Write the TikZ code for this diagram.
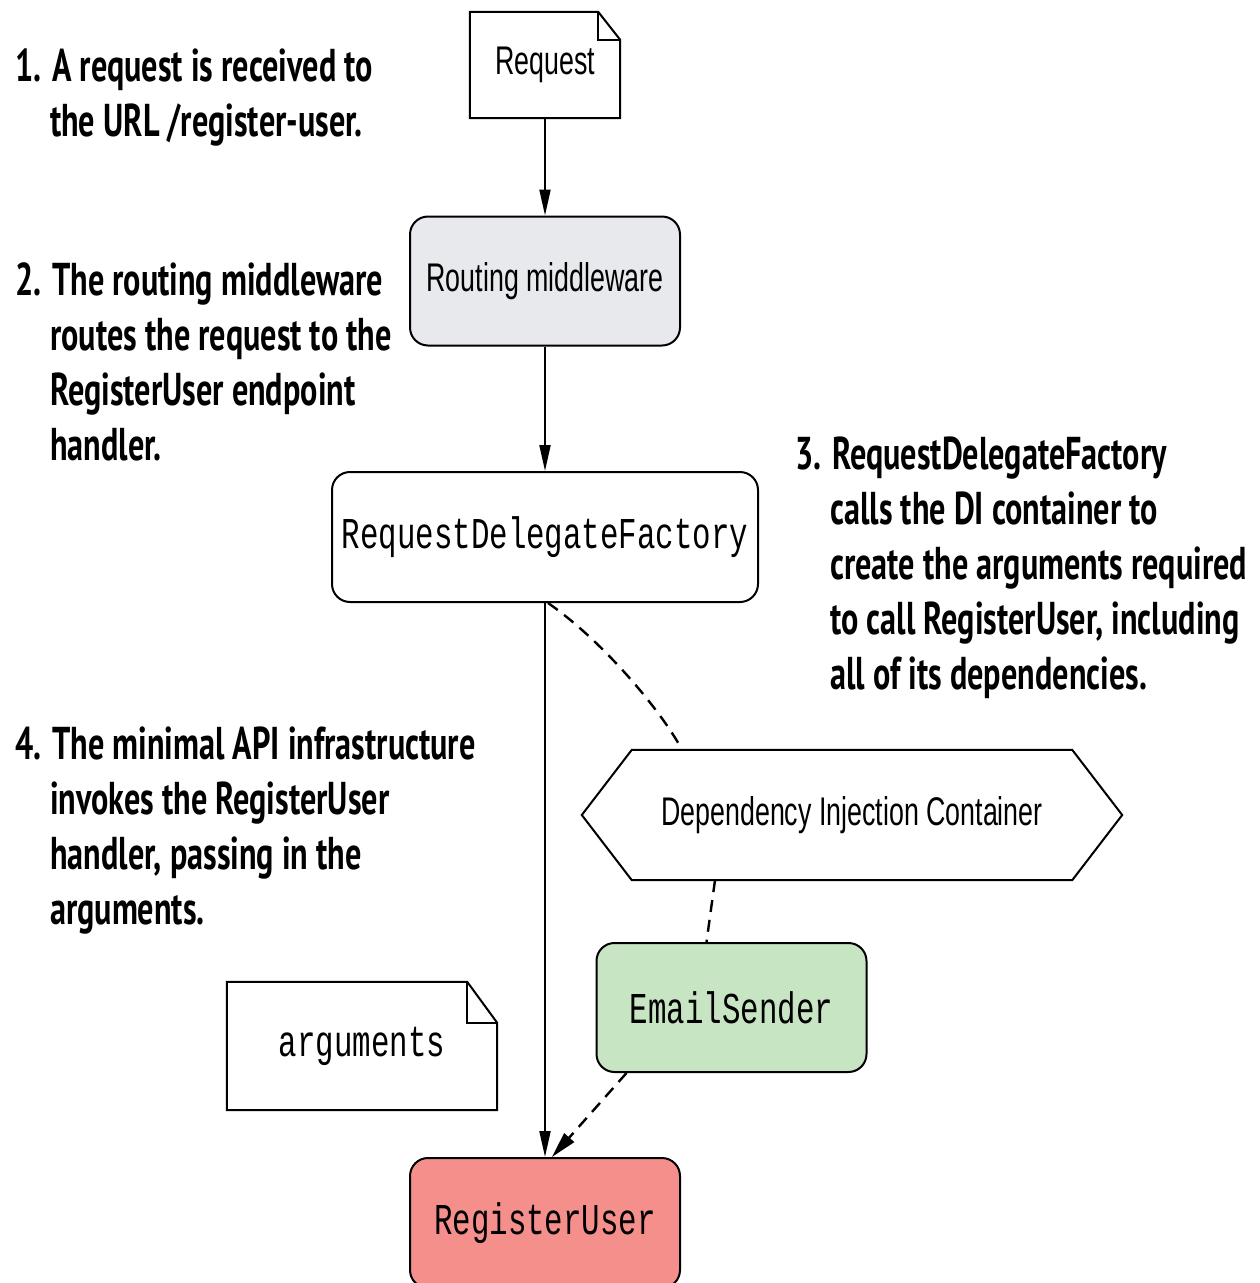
\documentclass[tikz,border=0pt]{standalone}
\usepackage{fontspec}
\setmainfont{Liberation Sans}
\newfontfamily\notefont[FakeStretch=0.70]{PT Sans}
\newfontfamily\boxfont[FakeStretch=0.67]{Liberation Sans}
\newfontfamily\codefont[FakeStretch=0.70]{Liberation Mono}
\usetikzlibrary{arrows.meta}

\definecolor{routegray}{RGB}{232,233,237}
\definecolor{sendergreen}{RGB}{199,228,195}
\definecolor{userred}{RGB}{244,143,139}

\newcommand{\noteindent}{\hspace*{35pt}}

\tikzset{
    note/.style={anchor=north west, inner sep=0pt, align=left,
        font=\notefont\bfseries\fontsize{46}{55}\selectfont},
    box/.style={draw, line width=2pt, rounded corners=18pt,
        minimum width=270pt, minimum height=129pt,
        font=\boxfont\fontsize{40}{48}\selectfont},
    codebox/.style={box, font=\codefont\fontsize{44}{52}\selectfont},
    paper/.style={minimum width=150pt, minimum height=106pt,
        font=\boxfont\fontsize{40}{48}\selectfont},
    flow/.style={line width=2pt, -{Triangle[length=26pt,width=11pt]}},
    inject/.style={line width=2.4pt, dash pattern=on 12pt off 8pt},
}

\begin{document}
\begin{tikzpicture}[x=1pt, y=-1pt]
    \useasboundingbox (0,0) rectangle (1260,1283);

    % Note
    \node[note] (note1) at (15,49)  {1. A request is received to\\
        \noteindent the URL /register-user.};
    \node[note] (note2) at (15,262) {2. The routing middleware\\
        \noteindent routes the request to the\\
        \noteindent RegisterUser endpoint\\
        \noteindent handler.};
    \node[note] (note3) at (795,437) {3. RequestDelegateFactory\\
        \noteindent calls the DI container to\\
        \noteindent create the arguments required\\
        \noteindent to call RegisterUser, including\\
        \noteindent all of its dependencies.};
    \node[note] (note4) at (15,727) {4. The minimal API infrastructure\\
        \noteindent invokes the RegisterUser\\
        \noteindent handler, passing in the\\
        \noteindent arguments.};

    % Richiesta
    \node[paper] (req) at (545,65) {Request};
    \draw[line width=2pt] (req.south west) |- ([xshift=-22pt]req.north east)
        -- ([yshift=-28pt]req.north east) |- cycle;
    \draw[line width=2pt] ([xshift=-22pt]req.north east) |- ([yshift=-28pt]req.north east);

    % Pipeline
    \node[box, fill=routegray] (route) at (545,281) {Routing middleware};
    \node[codebox, minimum width=426pt, minimum height=130pt] (rdf) at (545,537) {RequestDelegateFactory};
    \node[codebox, fill=sendergreen] (sender) at (731.5,1007.5) {EmailSender};
    \node[codebox, fill=userred, minimum height=130pt] (user) at (545,1223) {RegisterUser};

    % Contenitore DI
    \node[minimum width=540pt, minimum height=130pt,
        font=\boxfont\fontsize{40}{48}\selectfont] (di) at (852,815) {Dependency Injection Container};
    \draw[line width=2pt] (di.west) -- ([xshift=50pt]di.north west)
        -- ([xshift=-50pt]di.north east) -- (di.east)
        -- ([xshift=-50pt]di.south east) -- ([xshift=50pt]di.south west) -- cycle;

    % Argomenti
    \node[paper, minimum width=270pt, minimum height=128pt,
        font=\codefont\fontsize{44}{52}\selectfont] (args) at (362,1046) {arguments};
    \draw[line width=2pt] (args.south west) |- ([xshift=-30pt]args.north east)
        -- ([yshift=-41pt]args.north east) |- cycle;
    \draw[line width=2pt] ([xshift=-30pt]args.north east) |- ([yshift=-41pt]args.north east);

    % Frecce
    \draw[flow] (req) -- (route);
    \draw[flow] (route) -- (rdf);
    \draw[flow] (rdf) -- (user);
    \draw[inject] ([xshift=3pt]rdf.south) .. controls +(55,38) and +(-20,-38) .. ([xshift=-170pt]di.north);
    \draw[inject] ([xshift=-137pt]di.south) -- ([xshift=-25pt]sender.north);
    \draw[inject, -{Triangle[length=26pt,width=13pt]}] ([xshift=31pt]sender.south west) -- ([xshift=7pt]user.north);
\end{tikzpicture}
\end{document}
